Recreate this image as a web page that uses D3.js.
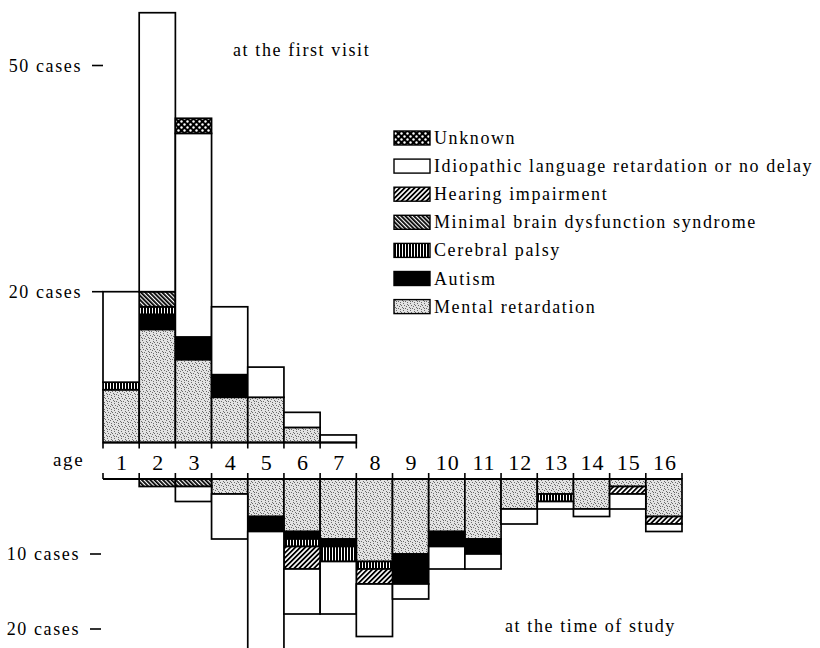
<!DOCTYPE html>
<html>
<head>
<meta charset="utf-8">
<script src="https://cdn.jsdelivr.net/npm/d3@7"></script>
<style>
  body { margin: 0; background: #fff; }
  text { font-family: "Liberation Serif", "DejaVu Serif", serif; font-size: 18px; letter-spacing: 1.6px; fill: #000; }
</style>
</head>
<body>
<div id="chart"></div>
<script>
// ages on the shared axis
const ages = [1, 2, 3, 4, 5, 6, 7, 8, 9, 10, 11, 12, 13, 14, 15, 16];

// stacking order (from the axis outwards)
const keys = ["mr", "autism", "cp", "mbd", "hearing", "idio", "unknown"];
const categories = ["Mental retardation", "Autism", "Cerebral palsy", "Minimal brain dysfunction syndrome",
                    "Hearing impairment", "Idiopathic language retardation or no delay", "Unknown"];

// at the first visit (cases per age)
const visitMR      = [7, 15, 11, 6, 6, 2, 0, 0, 0, 0, 0, 0, 0, 0, 0, 0];
const visitAutism  = [0, 2, 3, 3, 0, 0, 0, 0, 0, 0, 0, 0, 0, 0, 0, 0];
const visitCP      = [1, 1, 0, 0, 0, 0, 0, 0, 0, 0, 0, 0, 0, 0, 0, 0];
const visitMBD     = [0, 2, 0, 0, 0, 0, 0, 0, 0, 0, 0, 0, 0, 0, 0, 0];
const visitHearing = [0, 0, 0, 0, 0, 0, 0, 0, 0, 0, 0, 0, 0, 0, 0, 0];
const visitIdio    = [12, 37, 27, 9, 4, 2, 1, 0, 0, 0, 0, 0, 0, 0, 0, 0];
const visitUnknown = [0, 0, 2, 0, 0, 0, 0, 0, 0, 0, 0, 0, 0, 0, 0, 0];

// at the time of study (cases per age)
const studyMR      = [0, 0, 0, 2, 5, 7, 8, 11, 10, 7, 8, 4, 2, 4, 1, 5];
const studyAutism  = [0, 0, 0, 0, 2, 1, 1, 0, 4, 2, 2, 0, 0, 0, 0, 0];
const studyCP      = [0, 0, 0, 0, 0, 1, 2, 1, 0, 0, 0, 0, 1, 0, 0, 0];
const studyMBD     = [0, 1, 1, 0, 0, 0, 0, 0, 0, 0, 0, 0, 0, 0, 0, 0];
const studyHearing = [0, 0, 0, 0, 0, 3, 0, 2, 0, 0, 0, 0, 0, 0, 1, 1];
const studyIdio    = [0, 0, 2, 6, 18, 6, 7, 7, 2, 3, 2, 2, 1, 1, 2, 1];
const studyUnknown = [0, 0, 0, 0, 0, 0, 0, 0, 0, 0, 0, 0, 0, 0, 0, 0];

// tick labels
const topTicks = [20, 50];
const bottomTicks = [10, 20];

const width = 820, height = 648;

const svg = d3.select("#chart").append("svg")
    .attr("width", width)
    .attr("height", height);

// fill patterns
const defs = svg.append("defs");

// stipple for mental retardation
const pMR = defs.append("pattern").attr("id", "p-mr").attr("patternUnits", "userSpaceOnUse")
    .attr("width", 7).attr("height", 7);
pMR.append("rect").attr("width", 7).attr("height", 7).attr("fill", "#e2e2e2");
[[1, 1], [4, 2], [2, 4], [6, 5], [5, 0], [0, 6], [3, 6], [6, 3], [2, 2]].forEach(p => {
    pMR.append("rect").attr("x", p[0]).attr("y", p[1]).attr("width", 1).attr("height", 1).attr("fill", "#6a6a6a");
});

const pCP = defs.append("pattern").attr("id", "p-cp").attr("patternUnits", "userSpaceOnUse")
    .attr("width", 3).attr("height", 3);
pCP.append("rect").attr("width", 3).attr("height", 3).attr("fill", "#fff");
pCP.append("rect").attr("width", 2).attr("height", 3).attr("fill", "#000");

function hatch(id, angle, gap, lw) {
    const p = defs.append("pattern").attr("id", id).attr("patternUnits", "userSpaceOnUse")
        .attr("width", gap).attr("height", gap)
        .attr("patternTransform", "rotate(" + angle + ")");
    p.append("rect").attr("width", gap).attr("height", gap).attr("fill", "#fff");
    p.append("rect").attr("width", lw).attr("height", gap).attr("fill", "#000");
}
hatch("p-mbd", -45, 3, 1.8);
hatch("p-hearing", 45, 3.5, 1.8);

const pUnk = defs.append("pattern").attr("id", "p-unknown").attr("patternUnits", "userSpaceOnUse")
    .attr("width", 6).attr("height", 6);
pUnk.append("rect").attr("width", 6).attr("height", 6).attr("fill", "#000");
pUnk.append("circle").attr("cx", 1.5).attr("cy", 1.5).attr("r", 1.2).attr("fill", "#fff");
pUnk.append("circle").attr("cx", 4.5).attr("cy", 4.5).attr("r", 1.2).attr("fill", "#fff");

const fills = {
    mr: "url(#p-mr)", autism: "#000", cp: "url(#p-cp)", mbd: "url(#p-mbd)",
    hearing: "url(#p-hearing)", idio: "#fff", unknown: "url(#p-unknown)"
};

// scales
const x = d3.scaleBand().domain(ages).range([103, 682]).padding(0);
const yTop = d3.scaleLinear().domain([0, 57]).range([442.5, 442.5 - 57 * 7.54]);
const yBot = d3.scaleLinear().domain([0, 25]).range([479, 479 + 25 * 7.5]);

// build rows for the stack
const visitRows = ages.map((a, i) => ({
    age: a, mr: visitMR[i], autism: visitAutism[i], cp: visitCP[i], mbd: visitMBD[i],
    hearing: visitHearing[i], idio: visitIdio[i], unknown: visitUnknown[i]
}));
const studyRows = ages.map((a, i) => ({
    age: a, mr: studyMR[i], autism: studyAutism[i], cp: studyCP[i], mbd: studyMBD[i],
    hearing: studyHearing[i], idio: studyIdio[i], unknown: studyUnknown[i]
}));

const stack = d3.stack().keys(keys);

// top bars (first visit)
stack(visitRows).forEach(layer => {
    svg.append("g").selectAll("rect")
        .data(layer.filter(d => d[1] > d[0]))
        .enter().append("rect")
        .attr("x", d => x(d.data.age))
        .attr("width", x.bandwidth())
        .attr("y", d => yTop(d[1]))
        .attr("height", d => yTop(d[0]) - yTop(d[1]))
        .attr("fill", fills[layer.key])
        .attr("stroke", "#000")
        .attr("stroke-width", 1.7);
});

// bottom bars (time of study)
stack(studyRows).forEach(layer => {
    svg.append("g").selectAll("rect")
        .data(layer.filter(d => d[1] > d[0]))
        .enter().append("rect")
        .attr("x", d => x(d.data.age))
        .attr("width", x.bandwidth())
        .attr("y", d => yBot(d[0]))
        .attr("height", d => yBot(d[1]) - yBot(d[0]))
        .attr("fill", fills[layer.key])
        .attr("stroke", "#000")
        .attr("stroke-width", 1.7);
});

// top axis: line under the first-visit bars with ticks pointing down
const topAges = ages.filter((a, i) => d3.sum(keys, k => visitRows[i][k]) > 0);
const topEnd = x(topAges[topAges.length - 1]) + x.bandwidth();
svg.append("line")
    .attr("x1", x(ages[0])).attr("x2", topEnd)
    .attr("y1", yTop(0)).attr("y2", yTop(0))
    .attr("stroke", "#000").attr("stroke-width", 2);
svg.append("g").selectAll("line")
    .data(topAges.map(a => x(a)).concat([topEnd]))
    .enter().append("line")
    .attr("x1", d => d).attr("x2", d => d)
    .attr("y1", yTop(0)).attr("y2", yTop(0) + 6)
    .attr("stroke", "#000").attr("stroke-width", 1.6);

// bottom axis: line over the study bars with ticks pointing up
svg.append("line")
    .attr("x1", x.range()[0]).attr("x2", x.range()[1])
    .attr("y1", yBot(0)).attr("y2", yBot(0))
    .attr("stroke", "#000").attr("stroke-width", 2);
svg.append("g").selectAll("line")
    .data(ages.map(a => x(a)).concat([x.range()[1]]))
    .enter().append("line")
    .attr("x1", d => d).attr("x2", d => d)
    .attr("y1", yBot(0)).attr("y2", yBot(0) - 6)
    .attr("stroke", "#000").attr("stroke-width", 1.6);

// age numbers between the two axes
svg.append("g").selectAll("text")
    .data(ages)
    .enter().append("text")
    .attr("x", d => x(d) + x.bandwidth() / 2 + 1)
    .attr("y", 470)
    .attr("text-anchor", "middle")
    .style("font-size", "22px")
    .style("letter-spacing", "1px")
    .text(d => d);

svg.append("text")
    .attr("x", 53).attr("y", 466)
    .style("font-size", "19px")
    .text("age");

// case ticks
topTicks.forEach(t => {
    svg.append("line")
        .attr("x1", 92).attr("x2", 103)
        .attr("y1", yTop(t)).attr("y2", yTop(t))
        .attr("stroke", "#000").attr("stroke-width", 1.6);
    svg.append("text")
        .attr("x", 82).attr("y", yTop(t) + 6)
        .attr("text-anchor", "end")
        .text(t + " cases");
});
bottomTicks.forEach(t => {
    svg.append("line")
        .attr("x1", 90).attr("x2", 101)
        .attr("y1", yBot(t)).attr("y2", yBot(t))
        .attr("stroke", "#000").attr("stroke-width", 1.6);
    svg.append("text")
        .attr("x", 80).attr("y", yBot(t) + 6)
        .attr("text-anchor", "end")
        .text(t + " cases");
});

// panel captions
svg.append("text").attr("x", 233).attr("y", 56).text("at the first visit");
svg.append("text").attr("x", 505).attr("y", 632).text("at the time of study");

// legend
const legend = svg.append("g")
    .attr("class", "legend")
    .attr("transform", "translate(394,138)");

keys.slice().reverse().forEach((k, i) => {
    legend.append("rect")
        .attr("x", 0)
        .attr("y", i * 28.1 - 7)
        .attr("width", 36)
        .attr("height", 14)
        .attr("fill", fills[k])
        .attr("stroke", "#000")
        .attr("stroke-width", 1.4);
    legend.append("text")
        .attr("x", 40)
        .attr("y", i * 28.1 + 6)
        .text(categories[keys.indexOf(k)]);
});
</script>
</body>
</html>
